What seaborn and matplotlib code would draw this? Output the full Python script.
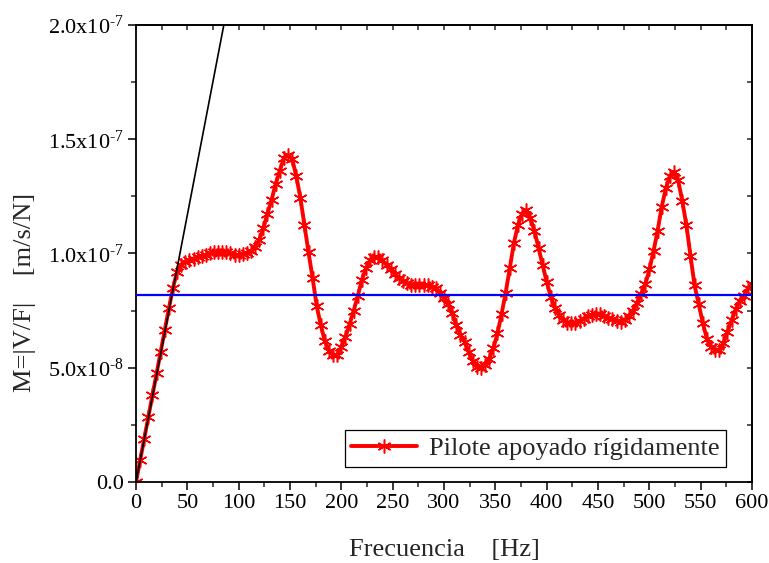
import numpy as np
import pandas as pd
import matplotlib
matplotlib.use('Agg')
import matplotlib.pyplot as plt
import seaborn as sns

# Données (M en unités de 1e-8 m/s/N)
freq = np.arange(0, 601, 4)
mob_e8 = [
    0.0, 0.95, 1.9, 2.85, 3.8, 4.75, 5.7, 6.65, 7.6, 8.5,
    9.2, 9.5, 9.64, 9.71, 9.78, 9.83, 9.9, 9.95, 10.0, 10.05,
    10.08, 10.08, 10.06, 10.0, 9.94, 9.92, 9.96, 10.03, 10.1, 10.3,
    10.6, 11.1, 11.75, 12.34, 13.05, 13.62, 14.18, 14.31, 14.15, 13.4,
    12.45, 11.25, 10.05, 8.91, 7.7, 6.85, 6.15, 5.75, 5.56, 5.57,
    5.92, 6.35, 6.9, 7.5, 8.15, 8.85, 9.35, 9.7, 9.84, 9.84,
    9.7, 9.5, 9.32, 9.1, 8.92, 8.8, 8.7, 8.63, 8.62, 8.62,
    8.62, 8.62, 8.55, 8.48, 8.27, 8.05, 7.8, 7.4, 6.85, 6.45,
    6.14, 5.68, 5.28, 5.05, 4.97, 5.1, 5.4, 5.85, 6.5, 7.35,
    8.28, 9.35, 10.45, 11.25, 11.75, 11.9, 11.55, 11.0, 10.25, 9.5,
    8.75, 8.1, 7.62, 7.3, 7.1, 6.97, 6.95, 6.96, 7.04, 7.15,
    7.25, 7.31, 7.34, 7.33, 7.26, 7.18, 7.12, 7.05, 7.02, 7.08,
    7.25, 7.5, 7.85, 8.22, 8.65, 9.3, 10.1, 11.0, 12.05, 12.85,
    13.4, 13.58, 13.2, 12.3, 11.25, 9.9, 8.6, 7.8, 6.95, 6.27,
    5.92, 5.77, 5.77, 6.07, 6.55, 7.07, 7.55, 7.93, 8.15, 8.48,
    8.65,
]
# droite tangente à l'origine (noire)
tangent_x = [0, 85.5]
tangent_y = [0, 2.0e-7]
# valeur moyenne (ligne bleue)
mean_level = 8.18e-8

y_ticks = [0, 5e-8, 1e-7, 1.5e-7, 2e-7]
y_ticklabels = ['0.0', r'5.0x10$^{\text{-8}}$', r'1.0x10$^{\text{-7}}$',
                r'1.5x10$^{\text{-7}}$', r'2.0x10$^{\text{-7}}$']

df = pd.DataFrame({'Frecuencia': freq, 'M': np.array(mob_e8) * 1e-8})

sns.set_style('ticks')
plt.rcParams['font.family'] = ['Liberation Serif', 'DejaVu Serif']
plt.rcParams['mathtext.fontset'] = 'custom'
plt.rcParams['mathtext.rm'] = 'Liberation Serif'
plt.rcParams['mathtext.it'] = 'Liberation Serif:italic'

fig = plt.figure(figsize=(7.69, 5.63), dpi=100)
ax = fig.add_axes([0.1769, 0.1439, 0.8011, 0.8117])

sns.lineplot(data=df, x='Frecuencia', y='M', ax=ax, color='#ff0000', lw=2.8,
             marker=(6, 2, 0), markersize=10, markeredgewidth=1.1,
             markeredgecolor='#ff0000', label='Pilote apoyado rígidamente', zorder=2)
ax.plot(tangent_x, tangent_y, color='black', lw=1.2, zorder=3)
ax.axhline(mean_level, color='#0000ff', lw=1.6, zorder=3)

ax.set_xlim(0, 600)
ax.set_ylim(0, 2e-7)
ax.set_xticks(np.arange(0, 601, 50))
ax.set_xticks(np.arange(0, 601, 25), minor=True)
ax.set_yticks(y_ticks)
ax.set_yticklabels(y_ticklabels)
ax.set_yticks(np.arange(0, 2.01e-7, 2.5e-8), minor=True)
ax.tick_params(axis='both', which='major', labelsize=16, length=5.5, width=1.1,
               direction='out', colors='black')
ax.tick_params(axis='both', which='minor', length=3.5, width=1.1, direction='out')

# ticks miroir en haut et à droite
top = ax.secondary_xaxis('top')
top.set_xticks(np.arange(0, 601, 25))
top.tick_params(direction='in', length=3.5, width=1.1, labeltop=False)
right = ax.secondary_yaxis('right')
right.set_yticks(np.arange(0, 2.01e-7, 2.5e-8))
right.tick_params(direction='in', length=3.5, width=1.1, labelright=False)

for s in ax.spines.values():
    s.set_linewidth(1.3)
    s.set_color('black')
for s in list(top.spines.values()) + list(right.spines.values()):
    s.set_linewidth(1.3)

ax.set_xlabel('Frecuencia    [Hz]', fontsize=19)
ax.set_ylabel('M=|V/F|    [m/s/N]', fontsize=19)
ax.xaxis.set_label_coords(0.5, -0.124)
ax.yaxis.set_label_coords(-0.162, 0.415)

leg = ax.legend(loc='lower right', bbox_to_anchor=(0.958, 0.033), borderaxespad=0,
                fontsize=19, frameon=True, fancybox=False, edgecolor='black',
                framealpha=1, handlelength=2.5, borderpad=0.25, handletextpad=0.45,
                numpoints=1)
leg.get_frame().set_linewidth(0.9)

fig.savefig('out.png', dpi=100)
